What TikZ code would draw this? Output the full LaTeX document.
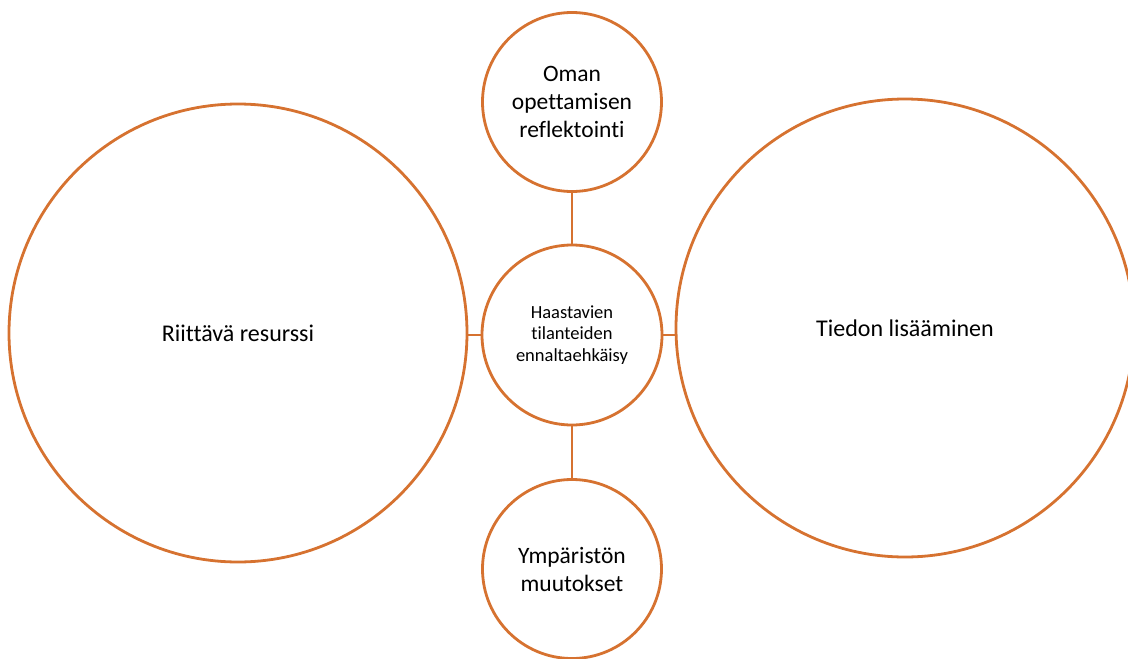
\documentclass[tikz,border=0pt]{standalone}
\usepackage{fontspec}
\setmainfont{Carlito}[Ligatures=NoCommon]
\definecolor{ring}{RGB}{214,114,48}
\tikzset{
  bubble/.style={circle, draw=ring, line width=2.8pt, fill=white, align=center, inner sep=0pt},
  big/.style={bubble, minimum size=458pt, font=\fontsize{24}{29}\selectfont},
  small/.style={bubble, minimum size=179pt, text width=150pt, font=\fontsize{23.5}{28}\selectfont},
  hub/.style={bubble, minimum size=180pt, text width=150pt, font=\fontsize{18.5}{21.5}\selectfont},
  link/.style={draw=ring, line width=2.8pt}
}
\begin{document}
\begin{tikzpicture}[x=1pt,y=-1pt]
\clip (0,0) rectangle (1128,659);
\useasboundingbox (0,0) rectangle (1128,659);
\node[hub]   (hub)   at (572,335) {Haastavien\\tilanteiden\\ennaltaehkäisy};
\node[small] (top)   at (572,102) {Oman\\opettamisen\\reflektointi};
\node[small] (bot)   at (572,569) {Ympäristön\\muutokset};
\node[big]   (left)  at (238,333) {Riittävä resurssi};
\node[big]   (right) at (905,328) {Tiedon lisääminen};
\draw[link] (top) -- (hub);
\draw[link] (hub) -- (bot);
\draw[link] (hub.west) -- (hub.west -| left.east);
\draw[link] (hub.east) -- (hub.east -| right.west);
\end{tikzpicture}
\end{document}
